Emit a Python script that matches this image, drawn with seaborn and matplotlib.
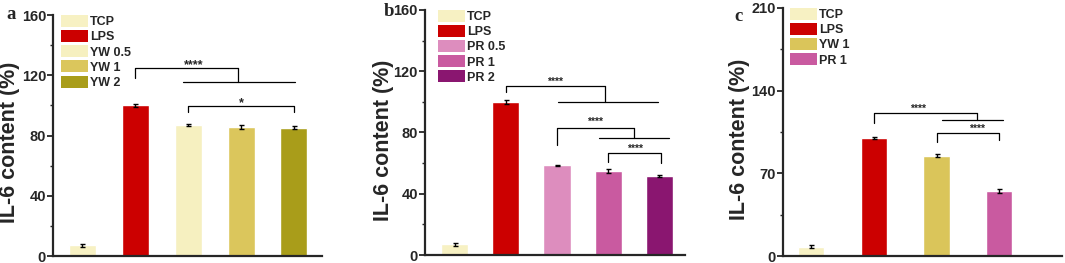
import numpy as np
import pandas as pd
import matplotlib
matplotlib.use("Agg")
import matplotlib.pyplot as plt
from matplotlib.patches import Patch
from matplotlib.ticker import AutoMinorLocator
import seaborn as sns

# panel a
groups_a = ["TCP", "LPS", "YW 0.5", "YW 1", "YW 2"]
values_a = [7.0, 100.0, 87.0, 85.5, 85.0]
errors_a = [1.0, 1.2, 0.8, 1.2, 1.0]
colors_a = ["#F7F1C3", "#CC0000", "#F6F0C0", "#DBC65C", "#A99D1A"]

# panel b
groups_b = ["TCP", "LPS", "PR 0.5", "PR 1", "PR 2"]
values_b = [7.0, 100.0, 58.5, 55.0, 51.5]
errors_b = [1.0, 1.5, 0.5, 1.3, 0.5]
colors_b = ["#F7F1C3", "#CC0000", "#DD8DBE", "#C95AA0", "#8A1670"]

# panel c
groups_c = ["TCP", "LPS", "YW 1", "PR 1"]
values_c = [8.0, 100.0, 85.0, 55.0]
errors_c = [1.0, 1.0, 1.0, 1.5]
colors_c = ["#F7F1C3", "#CC0000", "#DAC55A", "#C95AA0"]

sns.set_style("ticks")
plt.rcParams["font.family"] = ["Liberation Sans", "DejaVu Sans"]
plt.rcParams["font.weight"] = "bold"

fig = plt.figure(figsize=(10.65, 2.63), dpi=100)
ax_a = fig.add_axes([0.0498, 0.0266, 0.2526, 0.9163])
ax_b = fig.add_axes([0.3990, 0.0304, 0.2441, 0.9316])
ax_c = fig.add_axes([0.7352, 0.0266, 0.2620, 0.9430])


def bar_panel(ax, groups, values, errors, colors, width, ymax, step, xlim,
              leg_x, lab_x):
    df = pd.DataFrame({"group": groups, "value": values})
    sns.barplot(data=df, x="group", y="value", hue="group", palette=colors,
                width=width, legend=False, ax=ax, saturation=1)
    ax.errorbar(np.arange(len(groups)), values, yerr=errors, fmt="none",
                ecolor="black", elinewidth=1.0, capsize=1.8, capthick=1.0)
    ax.set_xlim(*xlim)
    ax.set_ylim(0, ymax)
    ax.set_yticks(np.arange(0, ymax + 1, step))
    ax.yaxis.set_minor_locator(AutoMinorLocator(2))
    ax.set_xticks([])
    ax.set_xlabel("")
    ax.set_ylabel("IL-6 content (%)", fontsize=15.5, fontweight="bold")
    ax.yaxis.set_label_coords(lab_x, 0.47)
    for s in ["top", "right"]:
        ax.spines[s].set_visible(False)
    for s in ["left", "bottom"]:
        ax.spines[s].set_linewidth(1.6)
    ax.tick_params(axis="y", which="major", length=4, width=1.3,
                   labelsize=10.5, pad=1)
    ax.tick_params(axis="y", which="minor", length=2, width=1.0)
    handles = [Patch(facecolor=c, edgecolor="none") for c in colors]
    ax.legend(handles, groups, loc="upper left", bbox_to_anchor=(leg_x, 1.0),
              frameon=False, handlelength=2.2, handleheight=1.1,
              labelspacing=0.15, handletextpad=0.15, borderaxespad=0,
              borderpad=0, prop={"weight": "bold", "size": 9})


def bracket(ax, x1, x2, top, leg1, leg2, star, tx, ty, fs):
    ax.plot([x1, x1, x2, x2], [leg1, top, top, leg2], color="black", lw=0.9)
    ax.text(tx, ty, star, ha="center", va="center", fontsize=fs,
            fontweight="bold")


def group_line(ax, xv, top, low, xa, xb):
    ax.plot([xv, xv], [top, low], color="black", lw=0.9)
    ax.plot([xa, xb], [low, low], color="black", lw=0.9)


bar_panel(ax_a, groups_a, values_a, errors_a, colors_a, 0.51, 160, 40,
          (-0.55, 4.53), 0.029, -0.123)
bar_panel(ax_b, groups_b, values_b, errors_b, colors_b, 0.53, 160, 40,
          (-0.58, 4.5), 0.049, -0.118)
bar_panel(ax_c, groups_c, values_c, errors_c, colors_c, 0.42, 210, 70,
          (-0.45, 4.0), 0.025, -0.118)

# significance marks, panel a
bracket(ax_a, 1, 2.94, 124.8, 118, 124.8, "****", 2.1, 126.5, 9)
group_line(ax_a, 2.94, 124.8, 115.5, 1.9, 4.02)
bracket(ax_a, 2, 4, 99.6, 95.8, 95.8, "*", 3.0, 101.5, 9)

# panel b
bracket(ax_b, 1, 2.93, 110.4, 106.7, 110.4, "****", 1.97, 113, 7.5)
group_line(ax_b, 2.93, 110.4, 100, 2.02, 3.98)
bracket(ax_b, 2, 3.5, 83.2, 71.8, 83.2, "****", 2.74, 87, 7.5)
group_line(ax_b, 3.5, 83.2, 76.2, 2.82, 4.19)
bracket(ax_b, 3, 4.03, 66.4, 61, 60, "****", 3.52, 69.5, 7.5)

# panel c
bracket(ax_c, 1, 2.65, 120.8, 113, 120.8, "****", 1.7, 125, 7.5)
group_line(ax_c, 2.65, 120.8, 115.2, 2.08, 3.06)
bracket(ax_c, 2, 3.0, 103.9, 96.8, 98.2, "****", 2.65, 107.5, 7.5)

# panel letters
for x, y, s in [(0.0056, 0.943, "a"), (0.3600, 0.958, "b"), (0.6900, 0.939, "c")]:
    fig.text(x, y, s, fontsize=13.5, fontweight="bold", va="center",
             family=["Liberation Serif", "DejaVu Serif"])

fig.savefig("out.png", dpi=100)
